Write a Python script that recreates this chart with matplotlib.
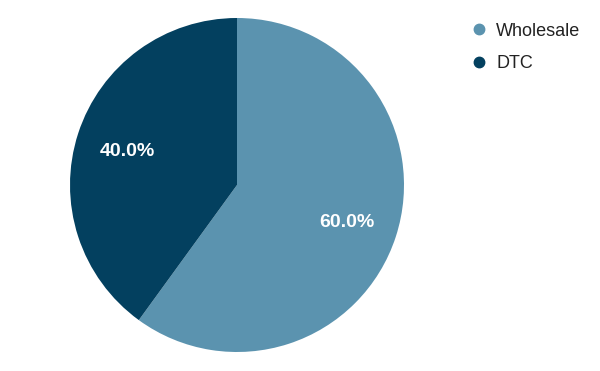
import matplotlib
matplotlib.use("Agg")
import matplotlib.pyplot as plt
from matplotlib.lines import Line2D

plt.rcParams["font.family"] = ["Liberation Sans", "DejaVu Sans"]

# ── data ────────────────────────────────────────────────────────────────────
labels = ["Wholesale", "DTC"]
shares = [60.0, 40.0]
colours = ["#5B93AF", "#03405F"]

W, H = 600, 371
fig = plt.figure(figsize=(W / 100, H / 100), dpi=100)

# pie centre (237, 186 from bottom), radius 167 px
cx, cy, r = 237, 186, 167
ax = fig.add_axes([(cx - r) / W, (cy - r) / H, 2 * r / W, 2 * r / H])

wedges, texts, autotexts = ax.pie(
    shares, colors=colours, startangle=90, counterclock=False,
    autopct="%.1f%%", pctdistance=0.69, radius=1,
    textprops=dict(color="white", fontsize=14, fontweight="bold"),
)
for t in autotexts:
    t.set_va("center_baseline")
ax.set_xlim(-1, 1)
ax.set_ylim(-1, 1)
ax.set_aspect("equal")
ax.axis("off")

# ── legend ──────────────────────────────────────────────────────────────────
handles = [Line2D([0], [0], marker="o", ls="none", markersize=7.5,
                  markerfacecolor=c, markeredgecolor=c) for c in colours]
fig.legend(handles, labels, loc="upper left",
           bbox_to_anchor=(470.6 / W, 1 - 22.5 / H),
           frameon=False, fontsize=13, handlelength=0.95,
           handletextpad=0.48, labelspacing=0.85,
           borderpad=0, borderaxespad=0, labelcolor="#222222")

fig.savefig("out.png", dpi=100)
